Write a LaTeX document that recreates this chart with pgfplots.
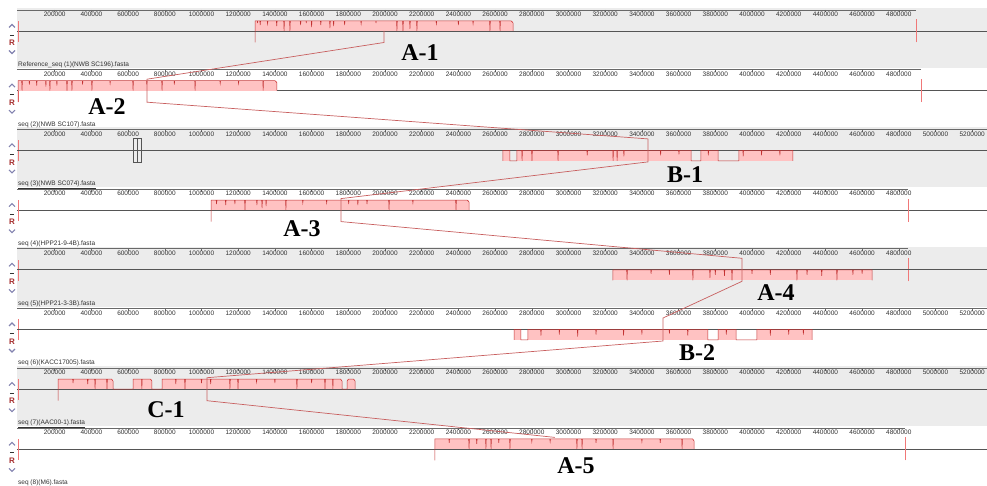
\documentclass[border=0pt]{standalone}
\usepackage{fontspec}
\setmainfont{Liberation Sans}
\newfontfamily\serifbf{Liberation Serif}
\usepackage{pgfplots}
\pgfplotsset{compat=1.18}

\definecolor{panelgray}{RGB}{236,236,236}
\definecolor{blockfill}{RGB}{255,194,194}
\definecolor{blockline}{RGB}{195,50,50}
\definecolor{conn}{RGB}{200,95,95}
\definecolor{rulercol}{RGB}{105,105,105}
\definecolor{centercol}{RGB}{85,85,85}
\definecolor{marker}{RGB}{240,120,120}
\definecolor{txtgray}{RGB}{50,50,50}
\definecolor{ctrlcol}{RGB}{130,130,175}
\definecolor{rcol}{RGB}{165,45,45}

\pgfplotsset{
  panel/.style={
    scale only axis, width=987pt, height=58pt,
    xmin=-98093, xmax=5280654, ymin=-37, ymax=21,
    axis line style={draw=none},
    ytick=\empty,
    xtick pos=right, xticklabel pos=right,
    xtick align=inside,
    major tick length=2.5pt,
    tick style={rulercol, line width=0.5pt},
    xticklabel style={font=\fontsize{6.5}{7}\selectfont, text=txtgray, anchor=north, inner sep=0pt, yshift=-2pt},
    scaled x ticks=false,
    /pgf/number format/fixed, /pgf/number format/precision=0,
    /pgf/number format/1000 sep={}, /pgf/number format/assume math mode=true,
    clip=false,
    anchor=south west,
  },
  shortticks/.style={xtick={200000,400000,600000,800000,1000000,1200000,1400000,1600000,1800000,2000000,2200000,2400000,2600000,2800000,3000000,3200000,3400000,3600000,3800000,4000000,4200000,4400000,4600000,4800000}},
  longticks/.style={xtick={200000,400000,600000,800000,1000000,1200000,1400000,1600000,1800000,2000000,2200000,2400000,2600000,2800000,3000000,3200000,3400000,3600000,3800000,4000000,4200000,4400000,4600000,4800000,5000000,5200000}},
  prof/.style={blockline, line width=0.5pt},
  bfill/.style={fill=blockfill, draw=none},
  gfill/.style={fill=panelgray, draw=none},
  overlay/.style={scale only axis, width=987pt, height=486pt,
    xmin=-98093, xmax=5280654, ymin=0, ymax=486, y dir=reverse,
    hide axis, clip=false, at={(0pt,0pt)}, anchor=south west},
}

\newcommand{\ctrls}{%
  \draw[ctrlcol, line width=1.1pt] (axis cs:-49000,3.5) -- (axis cs:-32700,6.5) -- (axis cs:-16400,3.5);
  \draw[txtgray, line width=0.8pt] (axis cs:-44000,-4) -- (axis cs:-21000,-4);
  \node[text=rcol, font=\bfseries\fontsize{8}{8}\selectfont, inner sep=0pt] at (axis cs:-32700,-12) {R};
  \draw[ctrlcol, line width=1.1pt] (axis cs:-49000,-19.5) -- (axis cs:-32700,-22.5) -- (axis cs:-16400,-19.5);
}
\newcommand{\plabel}[1]{\node[anchor=base west, inner sep=0pt, text=txtgray, font=\fontsize{6.5}{7}\selectfont] at (axis cs:0,-35.5) {\underline{#1}};}
\newcommand{\base}[1]{%
  \addplot[rulercol, line width=0.6pt] coordinates {(-5450,21)(#1,21)};
  \addplot[centercol, line width=0.6pt] coordinates {(-5450,0)(5280654,0)};
  \addplot[marker, line width=0.6pt] coordinates {(0,-11)(0,10)};
}

\begin{document}
\begin{tikzpicture}
\useasboundingbox (0,0) rectangle (987pt,486pt);

% ---------- Background bands
\begin{axis}[overlay]
\fill[panelgray] (axis cs:-5450,8) rectangle (axis cs:5280654,68);
\fill[panelgray] (axis cs:-5450,127.4) rectangle (axis cs:5280654,187.4);
\fill[panelgray] (axis cs:-5450,246.8) rectangle (axis cs:5280654,306.8);
\fill[panelgray] (axis cs:-5450,366.2) rectangle (axis cs:5280654,426.2);
\end{axis}

% ---------- Panel 1 : Reference seq (1)
\begin{axis}[panel, shortticks, at={(0pt,418pt)}]
\base{4894000}
\addplot[marker, line width=0.6pt] coordinates {(4894000,-11.5)(4894000,11.5)};
\addplot[bfill] coordinates {(1292000,10)(2698000,10)} \closedcycle;
\addplot[prof] coordinates {(1292000,-11.5)(1292000,10)
(1304000,10)(1305000,8)(1306000,10)
(1318000,10)(1320000,6)(1322000,10)(1358000,10)(1360000,7)(1362000,10)
(1408000,10)(1410000,5)(1412000,10)(1448000,10)(1450000,0)(1452000,10)
(1480000,10)(1482000,0)(1484000,10)(1538000,10)(1540000,6)(1542000,10)
(1570000,10)(1571000,8)(1572000,10)
(1598000,10)(1600000,4)(1602000,10)(1648000,10)(1650000,6)(1652000,10)
(1698000,10)(1700000,3)(1702000,10)(1718000,10)(1720000,5)(1722000,10)
(1778000,10)(1780000,6)(1782000,10)(1868000,10)(1870000,7)(1872000,10)
(1950000,10)(1951000,8)(1952000,10)
(2063000,10)(2065000,0)(2067000,10)(2096000,10)(2098000,0)(2100000,10)
(2134000,10)(2136000,2)(2138000,10)(2172000,10)(2174000,0)(2176000,10)
(2278000,10)(2280000,7)(2282000,10)(2398000,10)(2400000,6)(2402000,10)
(2478000,10)(2480000,7)(2482000,10)(2570000,10)(2572000,0)(2574000,10)
(2625000,10)(2627000,0)(2629000,10)(2688000,10)(2698000,8)(2698000,0)};
\plabel{Reference\_seq (1)(NWB SC196).fasta}
\ctrls
\end{axis}

% ---------- Panel 2
\begin{axis}[panel, shortticks, at={(0pt,358.3pt)}]
\base{4921000}
\addplot[marker, line width=0.6pt] coordinates {(4921000,-11.5)(4921000,11.5)};
\addplot[bfill] coordinates {(0,10)(1411000,10)} \closedcycle;
\addplot[prof] coordinates {(0,-11.5)(0,10)
(20000,10)(22000,0)(24000,10)(60000,10)(62000,6)(64000,10)
(100000,10)(102000,5)(104000,10)(150000,10)(152000,4)(154000,10)
(172000,10)(174000,0)(176000,10)(210000,10)(212000,5)(214000,10)
(265000,10)(267000,0)(269000,10)(292000,10)(294000,0)(296000,10)
(350000,10)(352000,6)(354000,10)(401000,10)(403000,0)(405000,10)
(500000,10)(502000,7)(504000,10)(625000,10)(627000,0)(629000,10)
(700000,10)(702000,6)(704000,10)(783000,10)(785000,0)(787000,10)
(850000,10)(852000,6)(854000,10)(963000,10)(965000,0)(967000,10)
(1100000,10)(1102000,7)(1104000,10)(1200000,10)(1202000,7)(1204000,10)
(1334000,10)(1336000,0)(1338000,10)(1401000,10)(1411000,8)(1411000,0)};
\plabel{seq (2)(NWB SC107).fasta}
\ctrls
\end{axis}

% ---------- Panel 3
\begin{axis}[panel, longticks, at={(0pt,298.6pt)}]
\base{5280654}
\addplot[bfill] coordinates {(2643000,-10.5)(2681000,-10.5)} \closedcycle;
\addplot[gfill] coordinates {(2681000,-10.5)(2719000,-10.5)} \closedcycle;
\addplot[bfill] coordinates {(2719000,-10.5)(3668000,-10.5)} \closedcycle;
\addplot[gfill] coordinates {(3668000,-10.5)(3722000,-10.5)} \closedcycle;
\addplot[bfill] coordinates {(3722000,-10.5)(3815000,-10.5)} \closedcycle;
\addplot[gfill] coordinates {(3815000,-10.5)(3929000,-10.5)} \closedcycle;
\addplot[bfill] coordinates {(3929000,-10.5)(4223000,-10.5)} \closedcycle;
\addplot[centercol, line width=0.6pt] coordinates {(-5450,0)(5280654,0)};
\addplot[prof] coordinates {(2643000,-10.5)(2643000,0)(2681000,0)(2681000,-10.5)(2719000,-10.5)(2719000,0)
(2745000,0)(2747000,-10.5)(2749000,0)(2799000,0)(2801000,-10.5)(2803000,0)
(2941000,0)(2943000,-10.5)(2945000,0)(3100000,0)(3102000,-5)(3104000,0)
(3241000,0)(3243000,-10.5)(3245000,0)(3263000,0)(3265000,-10.5)(3267000,0)
(3300000,0)(3302000,-6)(3304000,0)(3500000,0)(3502000,-5)(3504000,0)
(3600000,0)(3602000,-4)(3604000,0)
(3668000,0)(3668000,-10.5)(3722000,-10.5)(3722000,0)
(3760000,0)(3762000,-5)(3764000,0)
(3815000,0)(3815000,-10.5)(3929000,-10.5)(3929000,0)
(3950000,0)(3952000,-6)(3954000,0)(4050000,0)(4052000,-5)(4054000,0)
(4150000,0)(4152000,-5)(4154000,0)(4223000,0)(4223000,-10.5)};
\addplot[centercol, line width=0.4pt] coordinates {(626704,12.4)(670301,12.4)(670301,-11.6)(626704,-11.6)(626704,12.4)};
\addplot[centercol, line width=0.4pt] coordinates {(648502,12.4)(648502,-11.6)};
\plabel{seq (3)(NWB SC074).fasta}
\ctrls
\end{axis}

% ---------- Panel 4
\begin{axis}[panel, shortticks, at={(0pt,238.9pt)}]
\base{4850000}
\addplot[marker, line width=0.6pt] coordinates {(4850000,-11.5)(4850000,11.5)};
\addplot[bfill] coordinates {(1052000,10)(2458000,10)} \closedcycle;
\addplot[prof] coordinates {(1052000,-11.5)(1052000,10)
(1080000,10)(1082000,6)(1084000,10)(1130000,10)(1132000,5)(1134000,10)
(1180000,10)(1182000,6)(1184000,10)(1235000,10)(1237000,0)(1239000,10)
(1300000,10)(1302000,5)(1304000,10)(1328000,10)(1330000,2)(1332000,10)
(1350000,10)(1352000,4)(1354000,10)(1458000,10)(1460000,0)(1462000,10)
(1550000,10)(1552000,7)(1554000,10)(1680000,10)(1682000,7)(1684000,10)
(1800000,10)(1802000,6)(1804000,10)(1850000,10)(1852000,5)(1854000,10)
(1900000,10)(1902000,6)(1904000,10)(2020000,10)(2022000,0)(2024000,10)
(2150000,10)(2152000,7)(2154000,10)(2385000,10)(2387000,0)(2389000,10)
(2448000,10)(2458000,8)(2458000,0)};
\plabel{seq (4)(HPP21-9-4B).fasta}
\ctrls
\end{axis}

% ---------- Panel 5
\begin{axis}[panel, shortticks, at={(0pt,179.2pt)}]
\base{4850000}
\addplot[marker, line width=0.6pt] coordinates {(4850000,-11.5)(4850000,11.5)};
\addplot[bfill] coordinates {(3242000,-10.5)(4654000,-10.5)} \closedcycle;
\addplot[centercol, line width=0.6pt] coordinates {(-5450,0)(5280654,0)};
\addplot[prof] coordinates {(3242000,-10.5)(3242000,0)
(3317000,0)(3319000,-10.5)(3321000,0)(3448000,0)(3450000,-4)(3452000,0)
(3548000,0)(3550000,-5)(3552000,0)(3676000,0)(3678000,-10.5)(3680000,0)
(3769000,0)(3771000,-8)(3773000,0)(3798000,0)(3800000,-5)(3802000,0)
(3848000,0)(3850000,-6)(3852000,0)(3889000,0)(3891000,-10.5)(3893000,0)
(3998000,0)(4000000,-4)(4002000,0)(4098000,0)(4100000,-5)(4102000,0)
(4243000,0)(4245000,-10.5)(4247000,0)(4298000,0)(4300000,-5)(4302000,0)
(4378000,0)(4380000,-6)(4382000,0)(4461000,0)(4463000,-10.5)(4465000,0)
(4548000,0)(4550000,-5)(4552000,0)(4598000,0)(4600000,-4)(4602000,0)
(4654000,0)(4654000,-10.5)};
\plabel{seq (5)(HPP21-3-3B).fasta}
\ctrls
\end{axis}

% ---------- Panel 6
\begin{axis}[panel, longticks, at={(0pt,119.5pt)}]
\base{5280654}
\addplot[bfill] coordinates {(2703000,-10.5)(2741000,-10.5)} \closedcycle;
\addplot[bfill] coordinates {(2779000,-10.5)(3760000,-10.5)} \closedcycle;
\addplot[bfill] coordinates {(3815000,-10.5)(3913000,-10.5)} \closedcycle;
\addplot[bfill] coordinates {(4027000,-10.5)(4327000,-10.5)} \closedcycle;
\addplot[centercol, line width=0.6pt] coordinates {(-5450,0)(5280654,0)};
\addplot[prof] coordinates {(2703000,-10.5)(2703000,0)(2741000,0)(2741000,-10.5)(2779000,-10.5)(2779000,0)
(2848000,0)(2850000,-6)(2852000,0)(2948000,0)(2950000,-5)(2952000,0)
(3048000,0)(3050000,-7)(3052000,0)(3148000,0)(3150000,-5)(3152000,0)
(3298000,0)(3300000,-6)(3302000,0)(3398000,0)(3400000,-5)(3402000,0)
(3548000,0)(3550000,-4)(3552000,0)(3648000,0)(3650000,-6)(3652000,0)
(3760000,0)(3760000,-10.5)(3815000,-10.5)(3815000,0)
(3858000,0)(3860000,-5)(3862000,0)
(3913000,0)(3913000,-10.5)(4027000,-10.5)(4027000,0)
(4098000,0)(4100000,-6)(4102000,0)(4198000,0)(4200000,-5)(4202000,0)
(4278000,0)(4280000,-5)(4282000,0)(4327000,0)(4327000,-10.5)};
\plabel{seq (6)(KACC17005).fasta}
\ctrls
\end{axis}

% ---------- Panel 7
\begin{axis}[panel, longticks, at={(0pt,59.8pt)}]
\base{5280654}
\addplot[bfill] coordinates {(218000,10)(518000,10)} \closedcycle;
\addplot[bfill] coordinates {(627000,10)(730000,10)} \closedcycle;
\addplot[bfill] coordinates {(785000,10)(1766000,10)} \closedcycle;
\addplot[bfill] coordinates {(1793000,10)(1837000,10)} \closedcycle;
\addplot[prof] coordinates {(218000,-11.5)(218000,10)
(298000,10)(300000,6)(302000,10)(378000,10)(380000,5)(382000,10)
(418000,10)(420000,0)(422000,10)(483000,10)(485000,0)(487000,10)
(510000,10)(518000,8)(518000,0)(627000,0)(627000,10)
(673000,10)(675000,0)(677000,10)(722000,10)(730000,8)(730000,0)
(785000,0)(785000,10)
(858000,10)(860000,5)(862000,10)(908000,10)(910000,0)(912000,10)
(998000,10)(1000000,6)(1002000,10)(1048000,10)(1050000,5)(1052000,10)
(1153000,10)(1155000,0)(1157000,10)(1197000,10)(1199000,0)(1201000,10)
(1298000,10)(1300000,7)(1302000,10)(1398000,10)(1400000,6)(1402000,10)
(1518000,10)(1520000,0)(1522000,10)(1598000,10)(1600000,6)(1602000,10)
(1671000,10)(1673000,0)(1675000,10)(1714000,10)(1716000,0)(1718000,10)
(1758000,10)(1766000,8)(1766000,0)(1793000,0)(1793000,8)(1801000,10)
(1829000,10)(1837000,8)(1837000,0)};
\plabel{seq (7)(AAC00-1).fasta}
\ctrls
\end{axis}

% ---------- Panel 8
\begin{axis}[panel, shortticks, at={(0pt,0.1pt)}]
\base{4834000}
\addplot[marker, line width=0.6pt] coordinates {(4834000,-11.5)(4834000,11.5)};
\addplot[bfill] coordinates {(2272000,10)(3684000,10)} \closedcycle;
\addplot[prof] coordinates {(2272000,-11.5)(2272000,10)
(2348000,10)(2350000,6)(2352000,10)(2456000,10)(2458000,0)(2460000,10)
(2498000,10)(2500000,5)(2502000,10)(2548000,10)(2550000,0)(2552000,10)
(2576000,10)(2578000,0)(2580000,10)(2618000,10)(2620000,6)(2622000,10)
(2679000,10)(2681000,0)(2683000,10)(2798000,10)(2800000,7)(2802000,10)
(2898000,10)(2900000,7)(2902000,10)(3044000,10)(3046000,0)(3048000,10)
(3072000,10)(3074000,0)(3076000,10)(3148000,10)(3150000,6)(3152000,10)
(3241000,10)(3243000,0)(3245000,10)(3398000,10)(3400000,7)(3402000,10)
(3498000,10)(3500000,6)(3502000,10)(3617000,10)(3619000,0)(3621000,10)
(3676000,10)(3684000,8)(3684000,0)};
\plabel{seq (8)(M6).fasta}
\ctrls
\end{axis}

% ---------- Overlay: LCB connecting lines and labels
\begin{axis}[overlay]
\addplot[conn, line width=0.7pt] coordinates {(1994554,31)(1994554,42.5)(703000,79.2)(703000,102.2)(3433248,138.9)(3433248,161.9)(1760221,198.6)(1760221,221.6)(3945510,258.3)(3945510,281.3)(3514992,318)(3514992,341)(1029974,377.7)(1029974,400.7)(2926000,437.4)};
\tikzset{lcb/.style={font=\serifbf\bfseries\fontsize{24}{24}\selectfont, inner sep=0pt}}
\node[lcb] at (axis cs:2190700,53) {A-1};
\node[lcb] at (axis cs:485000,107) {A-2};
\node[lcb] at (axis cs:3634900,175) {B-1};
\node[lcb] at (axis cs:1547700,229) {A-3};
\node[lcb] at (axis cs:4130800,293) {A-4};
\node[lcb] at (axis cs:3700300,353) {B-2};
\node[lcb] at (axis cs:806500,410) {C-1};
\node[lcb] at (axis cs:3040900,466) {A-5};
\end{axis}
\end{tikzpicture}
\end{document}
